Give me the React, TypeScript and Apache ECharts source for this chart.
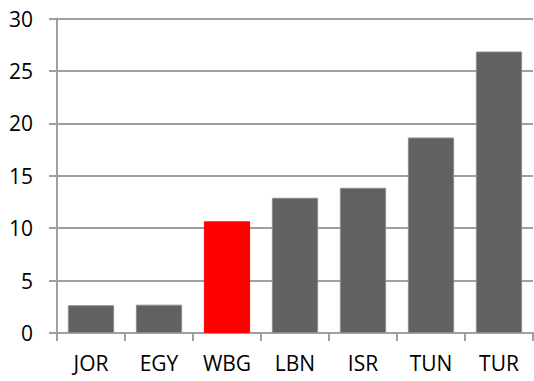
import React, { useEffect, useRef } from "react";
import * as echarts from "echarts";

const categories = ["JOR", "EGY", "WBG", "LBN", "ISR", "TUN", "TUR"];
const values = [2.65, 2.7, 10.65, 12.9, 13.85, 18.65, 26.85];
const barColors = ["#616161", "#616161", "#ff0000", "#616161", "#616161", "#616161", "#616161"];
const borderColors = ["#8c8c8c", "#8c8c8c", "#ff0000", "#8c8c8c", "#8c8c8c", "#8c8c8c", "#8c8c8c"];

export default function App() {
  const ref = useRef<HTMLDivElement>(null);
  useEffect(() => {
    if (!ref.current) return;
    const chart = echarts.init(ref.current, undefined, { renderer: "svg" });
    chart.setOption({
      animation: false,
      grid: { left: 57, right: 1, top: 18.5, bottom: 48, containLabel: false },
      xAxis: {
        type: "category",
        data: categories,
        boundaryGap: true,
        axisLine: { lineStyle: { color: "#a0a0a0", width: 2 } },
        axisTick: { show: true, length: 8, lineStyle: { color: "#a0a0a0", width: 2 } },
        axisLabel: { color: "#000", fontSize: 21, fontFamily: "Open Sans", margin: 19 },
      },
      yAxis: {
        type: "value",
        min: 0,
        max: 30,
        interval: 5,
        axisLine: { show: true, lineStyle: { color: "#a0a0a0", width: 2 } },
        axisTick: { show: true, length: 8, lineStyle: { color: "#a0a0a0", width: 2 } },
        splitLine: { lineStyle: { color: "#a0a0a0", width: 2 } },
        axisLabel: { color: "#000", fontSize: 21, fontFamily: "Open Sans", margin: 24 },
      },
      series: [
        {
          type: "bar",
          data: values.map((v, i) => ({
            value: v,
            itemStyle: { color: barColors[i], borderColor: borderColors[i], borderWidth: 1 },
          })),
          barCategoryGap: "32%",
        },
      ],
    });
    return () => chart.dispose();
  }, []);
  return <div ref={ref} style={{ width: 534, height: 381, position: "absolute", left: 0, top: 0 }} />;
}
